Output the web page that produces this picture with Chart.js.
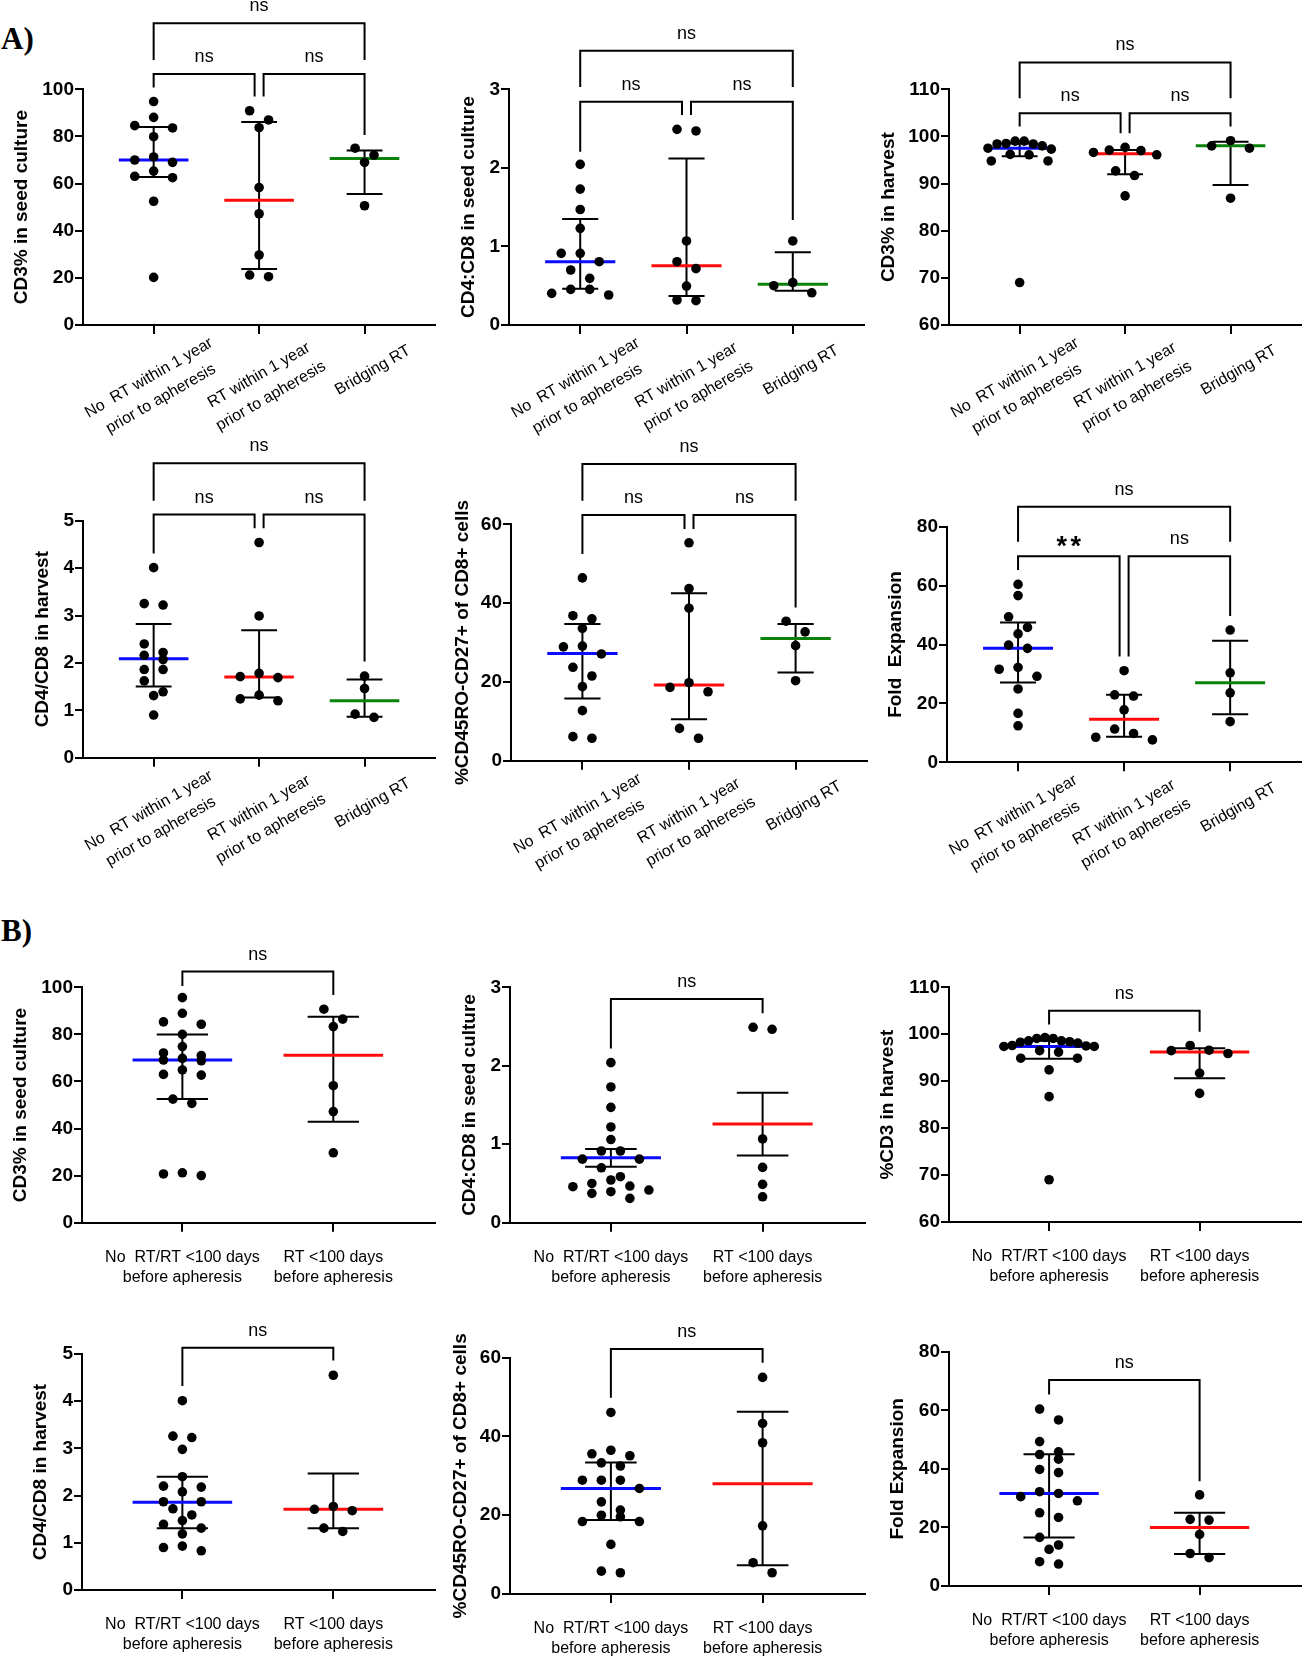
<!DOCTYPE html>
<html>
<head>
<meta charset="utf-8">
<script src="https://cdn.jsdelivr.net/npm/chart.js@4.4.1/dist/chart.umd.min.js"></script>
<style>
  body { margin: 0; background: #fff; }
  #page { position: relative; width: 1306px; height: 1659px; overflow: hidden; background: #fff; }
  #page canvas { position: absolute; }
  .tag { position: absolute; left: 1px; font: bold 31px "Liberation Serif", "Times New Roman", serif; line-height: 31px; }
</style>
</head>
<body>
<div id="page">
  <div class="tag" style="top:23px">A)</div>
  <div class="tag" style="top:915px">B)</div>
</div>
<script>
const groupsA = [['No  RT within 1 year', 'prior to apheresis'], ['RT within 1 year', 'prior to apheresis'], ['Bridging RT']];
const groupsB = [['No  RT/RT <100 days', 'before apheresis'], ['RT <100 days', 'before apheresis']];
const colorsA = ['#0b0bff', '#ff0b0b', '#0a820a'];
const colorsB = ['#0b0bff', '#ff0b0b'];

// ---- A) three groups ----
const a1Title = 'CD3% in seed culture';
const a1Ticks = [0, 20, 40, 60, 80, 100];
const a1Values = [
  [94.8, 88.1, 83.6, 84.6, 79.9, 71.3, 69.0, 70.0, 65.3, 63.1, 62.5, 52.5, 20.2],
  [90.9, 87.0, 83.7, 58.3, 47.2, 29.7, 20.5, 21.2],
  [72.1, 75.0, 69.0, 50.6]
];
const a1Center = [70.0, 52.9, 70.6];
const a1Low = [62.8, 23.8, 55.6];
const a1High = [84.0, 86.1, 74.0];
const a1Brackets = [[1, 2, 'ns', 106.5, 100.8, 96.9], [2, 3, 'ns', 106.5, 96.9, 80.6], [1, 3, 'ns', 128.0, 112.4, 112.4]];

const a2Title = 'CD4:CD8 in seed culture';
const a2Ticks = [0, 1, 2, 3];
const a2Values = [
  [2.045, 1.73, 1.47, 1.23, 0.806, 0.912, 0.912, 0.70, 0.594, 0.454, 0.403, 0.454, 0.382],
  [2.47, 2.49, 1.07, 0.806, 0.717, 0.496, 0.31, 0.318],
  [1.07, 0.539, 0.50, 0.41]
];
const a2Center = [0.806, 0.755, 0.518];
const a2Low = [0.462, 0.369, 0.437];
const a2High = [1.35, 2.12, 0.925];
const a2Brackets = [[1, 2, 'ns', 2.843, 2.206, 2.673], [2, 3, 'ns', 2.843, 2.673, 1.336], [1, 3, 'ns', 3.49, 3.03, 3.03]];

const a3Title = 'CD3% in harvest';
const a3Ticks = [60, 70, 80, 90, 100, 110];
const a3Values = [
  [98.0, 97.3, 98.5, 99.0, 98.4, 98.4, 99.0, 96.2, 97.5, 96.1, 94.8, 94.8, 69.0],
  [97.7, 96.1, 97.1, 96.6, 97.0, 92.7, 91.7, 87.4],
  [99.1, 97.5, 98.0, 86.9]
];
const a3Center = [97.5, 96.35, 98.0];
const a3Low = [95.8, 92.0, 89.7];
const a3High = [98.5, 97.1, 98.9];
const a3Brackets = [[1, 2, 'ns', 104.9, 102.1, 100.7], [2, 3, 'ns', 104.9, 100.7, 102.1], [1, 3, 'ns', 115.7, 108.1, 108.1]];

const a4Title = 'CD4/CD8 in harvest';
const a4Ticks = [0, 1, 2, 3, 4, 5];
const a4Values = [
  [4.01, 3.22, 3.25, 2.40, 2.16, 2.22, 2.07, 1.86, 1.86, 1.62, 1.39, 1.31, 0.90],
  [4.54, 2.99, 1.78, 1.69, 1.71, 1.20, 1.32, 1.24],
  [1.72, 1.46, 0.85, 0.92]
];
const a4Center = [2.09, 1.70, 1.20];
const a4Low = [1.50, 1.27, 0.865];
const a4High = [2.82, 2.69, 1.65];
const a4Brackets = [[1, 2, 'ns', 5.13, 4.31, 4.84], [2, 3, 'ns', 5.13, 4.84, 2.03], [1, 3, 'ns', 6.21, 5.42, 5.42]];

const a5Title = '%CD45RO-CD27+ of CD8+ cells';
const a5Ticks = [0, 20, 40, 60];
const a5Values = [
  [46.4, 36.0, 36.8, 33.6, 29.1, 28.9, 27.1, 23.7, 21.5, 18.8, 12.7, 5.7, 6.1],
  [55.3, 43.7, 38.7, 18.6, 19.8, 17.5, 8.2, 5.7],
  [35.4, 32.7, 29.2, 20.3]
];
const a5Center = [27.2, 19.2, 31.0];
const a5Low = [15.8, 10.5, 22.4];
const a5High = [34.7, 42.5, 34.7];
const a5Brackets = [[1, 2, 'ns', 62.35, 52.45, 58.8], [2, 3, 'ns', 62.35, 58.8, 38.9], [1, 3, 'ns', 75.3, 66.0, 66.0]];

const a6Title = 'Fold  Expansion';
const a6Ticks = [0, 20, 40, 60, 80];
const a6Values = [
  [60.4, 56.6, 49.4, 45.8, 43.6, 38.7, 39.8, 32.2, 31.6, 29.2, 24.9, 16.6, 12.4],
  [31.1, 22.9, 22.5, 17.8, 11.3, 9.8, 7.6, 8.5],
  [44.9, 30.4, 23.6, 13.8]
];
const a6Center = [38.7, 14.6, 27.0];
const a6Low = [27.1, 8.7, 16.3];
const a6High = [47.5, 22.9, 41.3];
const a6Brackets = [[1, 2, '**', 70.0, 65.3, 35.9], [2, 3, 'ns', 70.0, 35.9, 49.7], [1, 3, 'ns', 86.8, 74.9, 74.9]];

// ---- B) two groups ----
const b1Title = 'CD3% in seed culture';
const b1Ticks = [0, 20, 40, 60, 80, 100];
const b1Values = [
  [95.6, 88.95, 85.3, 84.3, 80.0, 74.8, 69.8, 71.0, 72.1, 69.1, 68.8, 64.9, 63.0, 62.7, 52.5, 50.7, 20.0, 21.2, 20.7],
  [90.7, 86.5, 83.3, 58.2, 47.2, 29.7]
];
const b1Center = [69.1, 71.1];
const b1Low = [52.5, 42.9];
const b1High = [79.9, 87.5];
const b1Brackets = [[1, 2, 'ns', 106.7, 100.6, 96.7]];

const b2Title = 'CD4:CD8 in seed culture';
const b2Ticks = [0, 1, 2, 3];
const b2Values = [
  [2.04, 1.73, 1.47, 1.22, 1.06, 0.914, 0.914, 0.81, 0.81, 0.70, 0.586, 0.544, 0.50, 0.467, 0.459, 0.416, 0.374, 0.395, 0.31],
  [2.465, 2.49, 1.067, 0.705, 0.489, 0.33]
];
const b2Center = [0.829, 1.258];
const b2Low = [0.714, 0.858];
const b2High = [0.94, 1.657];
const b2Brackets = [[1, 2, 'ns', 2.85, 2.22, 2.67]];

const b3Title = '%CD3 in harvest';
const b3Ticks = [60, 70, 80, 90, 100, 110];
const b3Values = [
  [97.4, 97.4, 98.4, 98.6, 99.1, 99.1, 98.3, 99.3, 98.1, 98.6, 97.6, 96.2, 96.5, 94.9, 94.9, 92.4, 86.7, 69.0, 97.5],
  [96.5, 97.6, 95.9, 96.6, 91.7, 87.4]
];
const b3Center = [97.4, 96.2];
const b3Low = [94.8, 90.6];
const b3High = [98.6, 97.0];
const b3Brackets = [[1, 2, 'ns', 105.0, 102.1, 100.55]];

const b4Title = 'CD4/CD8 in harvest';
const b4Ticks = [0, 1, 2, 3, 4, 5];
const b4Values = [
  [4.01, 3.23, 3.26, 2.98, 2.40, 2.18, 2.20, 2.08, 1.87, 1.87, 1.72, 1.59, 1.47, 1.39, 1.31, 1.19, 0.93, 0.90, 0.83],
  [4.55, 1.71, 1.77, 1.68, 1.24, 1.31]
];
const b4Center = [1.86, 1.71];
const b4Low = [1.31, 1.31];
const b4High = [2.40, 2.47];
const b4Brackets = [[1, 2, 'ns', 5.13, 4.32, 4.86]];

const b5Title = '%CD45RO-CD27+ of CD8+ cells';
const b5Ticks = [0, 20, 40, 60];
const b5Values = [
  [46.1, 35.1, 35.6, 36.5, 32.5, 33.3, 28.9, 26.8, 28.9, 28.9, 23.4, 20.0, 21.3, 19.6, 18.4, 18.4, 12.6, 5.4, 5.8],
  [55.0, 43.3, 38.4, 17.3, 7.95, 5.4]
];
const b5Center = [26.8, 28.0];
const b5Low = [18.8, 7.3];
const b5High = [33.4, 46.3];
const b5Brackets = [[1, 2, 'ns', 62.2, 49.8, 58.7]];

const b6Title = 'Fold Expansion';
const b6Ticks = [0, 20, 40, 60, 80];
const b6Values = [
  [60.4, 56.7, 49.3, 45.8, 44.9, 43.3, 38.7, 39.8, 30.5, 31.6, 32.2, 29.1, 25.0, 23.4, 16.6, 12.5, 14.0, 7.5, 8.3],
  [31.1, 22.75, 22.5, 17.6, 9.7, 11.1]
];
const b6Center = [31.6, 20.0];
const b6Low = [16.6, 10.9];
const b6High = [45.0, 25.0];
const b6Brackets = [[1, 2, 'ns', 70.3, 65.4, 35.8]];

// layout: canvas box [x, y, w, h], plot area [left, top, right, bottom], y-title centre x
const panels = [
  {title: a1Title, ticks: a1Ticks, values: a1Values, center: a1Center, low: a1Low, high: a1High, brackets: a1Brackets, groups: groupsA, colors: colorsA, box: [0, 0, 440, 440], area: [83, 89.3, 437, 325], titleX: 21.7},
  {title: a2Title, ticks: a2Ticks, values: a2Values, center: a2Center, low: a2Low, high: a2High, brackets: a2Brackets, groups: groupsA, colors: colorsA, box: [440, 0, 435, 440], area: [509, 89.3, 864, 325], titleX: 469.2},
  {title: a3Title, ticks: a3Ticks, values: a3Values, center: a3Center, low: a3Low, high: a3High, brackets: a3Brackets, groups: groupsA, colors: colorsA, box: [875, 0, 431, 440], area: [949, 89.3, 1303, 325], titleX: 888.8},
  {title: a4Title, ticks: a4Ticks, values: a4Values, center: a4Center, low: a4Low, high: a4High, brackets: a4Brackets, groups: groupsA, colors: colorsA, box: [0, 425, 440, 455], area: [83, 520.7, 438, 757.7], titleX: 42.5},
  {title: a5Title, ticks: a5Ticks, values: a5Values, center: a5Center, low: a5Low, high: a5High, brackets: a5Brackets, groups: groupsA, colors: colorsA, box: [440, 425, 435, 455], area: [511, 524.3, 867, 760.7], titleX: 462.5},
  {title: a6Title, ticks: a6Ticks, values: a6Values, center: a6Center, low: a6Low, high: a6High, brackets: a6Brackets, groups: groupsA, colors: colorsA, box: [875, 425, 431, 455], area: [947, 526.7, 1303, 762.3], titleX: 895.8},
  {title: b1Title, ticks: b1Ticks, values: b1Values, center: b1Center, low: b1Low, high: b1High, brackets: b1Brackets, groups: groupsB, colors: colorsB, box: [0, 880, 440, 410], area: [82, 987.3, 437, 1222.7], titleX: 20.5},
  {title: b2Title, ticks: b2Ticks, values: b2Values, center: b2Center, low: b2Low, high: b2High, brackets: b2Brackets, groups: groupsB, colors: colorsB, box: [440, 880, 435, 410], area: [510, 987.3, 865, 1222.7], titleX: 470},
  {title: b3Title, ticks: b3Ticks, values: b3Values, center: b3Center, low: b3Low, high: b3High, brackets: b3Brackets, groups: groupsB, colors: colorsB, box: [875, 880, 431, 410], area: [949, 987.3, 1303, 1222], titleX: 887.5},
  {title: b4Title, ticks: b4Ticks, values: b4Values, center: b4Center, low: b4Low, high: b4High, brackets: b4Brackets, groups: groupsB, colors: colorsB, box: [0, 1285, 440, 374], area: [82, 1354, 437, 1590], titleX: 40.3},
  {title: b5Title, ticks: b5Ticks, values: b5Values, center: b5Center, low: b5Low, high: b5High, brackets: b5Brackets, groups: groupsB, colors: colorsB, box: [440, 1285, 435, 374], area: [510, 1357.7, 865, 1594], titleX: 460.8},
  {title: b6Title, ticks: b6Ticks, values: b6Values, center: b6Center, low: b6Low, high: b6High, brackets: b6Brackets, groups: groupsB, colors: colorsB, box: [875, 1285, 431, 374], area: [949, 1351.7, 1303, 1586], titleX: 897.8}
];

const FONT = '"Liberation Sans", Arial, Helvetica, sans-serif';

// GraphPad-like scatter: values that fall within one dot height share a row
function spread(vals, g, pxX, pxY) {
  const sorted = vals.slice().sort((a, b) => b - a);
  const rows = [];
  sorted.forEach(v => {
    const row = rows[rows.length - 1];
    if (row && (row[0] - v) * pxY < 11) row.push(v);
    else rows.push([v]);
  });
  const pts = [];
  rows.forEach(row => {
    const n = row.length;
    const step = Math.min(19, 0.6 * pxX / Math.max(n - 1, 1)) / pxX;
    row.forEach((v, i) => {
      let k;
      if (n % 2) k = Math.ceil(i / 2) * (i % 2 ? -1 : 1);
      else k = (Math.floor(i / 2) + 0.5) * (i % 2 ? 1 : -1);
      pts.push({x: g + k * step, y: v});
    });
  });
  return pts;
}

function extras(p) {
  return {
    id: 'extras',
    afterDraw(chart) {
      const {ctx, chartArea} = chart;
      const x = chart.scales.x, y = chart.scales.y;
      const n = p.groups.length;
      ctx.save();
      ctx.fillStyle = '#000';
      ctx.strokeStyle = '#000';
      // category labels
      ctx.font = '16px ' + FONT;
      ctx.textAlign = 'center';
      ctx.textBaseline = 'middle';
      const ux = Math.cos(Math.PI / 6), uy = -Math.sin(Math.PI / 6);
      const vx = Math.sin(Math.PI / 6), vy = Math.cos(Math.PI / 6);
      p.groups.forEach((lines, i) => {
        const gx = x.getPixelForValue(i + 1);
        const w = Math.max(...lines.map(t => ctx.measureText(t).width));
        const a = -24 + 8.4 - 0.25 * (w - 84.5);
        lines.forEach((txt, j) => {
          if (n === 3) {
            const b = 43.5 + j * 24;
            ctx.save();
            ctx.translate(gx + a * ux + b * vx, chartArea.bottom + a * uy + b * vy);
            ctx.rotate(-Math.PI / 6);
            ctx.fillText(txt, 0, 0);
            ctx.restore();
          } else {
            ctx.fillText(txt, gx, chartArea.bottom + 35 + j * 19.5);
          }
        });
      });
      // significance brackets
      ctx.lineWidth = 2;
      ctx.lineJoin = 'miter';
      ctx.lineCap = 'butt';
      p.brackets.forEach(([a, b, label, level, endA, endB]) => {
        const xa = x.getPixelForValue(a) + (n === 3 && a === 2 ? 4.5 : 0);
        const xb = x.getPixelForValue(b) - (n === 3 && b === 2 ? 4.5 : 0);
        const yl = y.getPixelForValue(level);
        ctx.beginPath();
        ctx.moveTo(xa, y.getPixelForValue(endA));
        ctx.lineTo(xa, yl);
        ctx.lineTo(xb, yl);
        ctx.lineTo(xb, y.getPixelForValue(endB));
        ctx.stroke();
        const mx = (xa + xb) / 2;
        ctx.textBaseline = 'alphabetic';
        if (label === '**') {
          ctx.font = 'bold 27px ' + FONT;
          ctx.fillText('*', mx - 7, yl - 1);
          ctx.fillText('*', mx + 7, yl - 1);
        } else {
          ctx.font = '18px ' + FONT;
          ctx.fillText(label, mx, yl - 12);
        }
      });
      ctx.restore();
    }
  };
}

const page = document.getElementById('page');

panels.forEach(p => {
  const [bx, by, bw, bh] = p.box;
  const [al, at, ar, ab] = p.area;
  const n = p.groups.length;
  const xMin = n === 3 ? 0.33 : 0.335;
  const xMax = n === 3 ? 3.67 : 2.675;
  const yMin = p.ticks[0];
  const yMax = p.ticks[p.ticks.length - 1];
  const pxX = (ar - al) / (xMax - xMin);
  const pxY = (ab - at) / (yMax - yMin);

  const canvas = document.createElement('canvas');
  canvas.width = bw;
  canvas.height = bh;
  canvas.style.left = bx + 'px';
  canvas.style.top = by + 'px';
  page.appendChild(canvas);

  const datasets = [];
  p.values.forEach((vals, i) => {
    const g = i + 1;
    const line = {showLine: true, pointRadius: 0, borderCapStyle: 'butt', fill: false};
    datasets.push({data: spread(vals, g, pxX, pxY), pointRadius: 4.8, pointBackgroundColor: '#000', pointBorderWidth: 0, showLine: false, order: 0});
    datasets.push(Object.assign({data: [{x: g - 0.33, y: p.center[i]}, {x: g + 0.33, y: p.center[i]}], borderColor: p.colors[i], borderWidth: 3, order: 1}, line));
    datasets.push(Object.assign({data: [{x: g, y: p.low[i]}, {x: g, y: p.high[i]}], borderColor: '#000', borderWidth: 2, order: 2}, line));
    datasets.push(Object.assign({data: [{x: g - 0.17, y: p.high[i]}, {x: g + 0.17, y: p.high[i]}], borderColor: '#000', borderWidth: 2, order: 2}, line));
    datasets.push(Object.assign({data: [{x: g - 0.17, y: p.low[i]}, {x: g + 0.17, y: p.low[i]}], borderColor: '#000', borderWidth: 2, order: 2}, line));
  });

  new Chart(canvas, {
    type: 'scatter',
    data: {datasets},
    options: {
      responsive: false,
      animation: false,
      devicePixelRatio: 1,
      layout: {padding: {left: 0, top: at - by, right: bx + bw - ar, bottom: 0}},
      plugins: {legend: {display: false}, tooltip: {enabled: false}},
      scales: {
        x: {
          type: 'linear',
          min: xMin,
          max: xMax,
          afterBuildTicks: s => { s.ticks = p.groups.map((_, i) => ({value: i + 1})); },
          afterFit: s => { s.height = by + bh - ab; },
          ticks: {display: false},
          grid: {display: true, drawOnChartArea: false, drawTicks: true, tickLength: 9, color: '#000', lineWidth: 2},
          border: {display: true, color: '#000', width: 2}
        },
        y: {
          type: 'linear',
          min: yMin,
          max: yMax,
          afterBuildTicks: s => { s.ticks = p.ticks.map(v => ({value: v})); },
          afterFit: s => { s.width = al - bx; },
          ticks: {color: '#000', padding: 1, font: {family: FONT, size: 19, weight: 'bold'}, callback: v => String(v)},
          grid: {display: true, drawOnChartArea: false, drawTicks: true, tickLength: 8, color: '#000', lineWidth: 2},
          border: {display: true, color: '#000', width: 2},
          title: {display: true, text: p.title, color: '#000', font: {family: FONT, size: 19, weight: 'bold'}, padding: {top: p.titleX - bx - 11.4, bottom: 0}}
        }
      }
    },
    plugins: [extras(p)]
  });
});
</script>
</body>
</html>
